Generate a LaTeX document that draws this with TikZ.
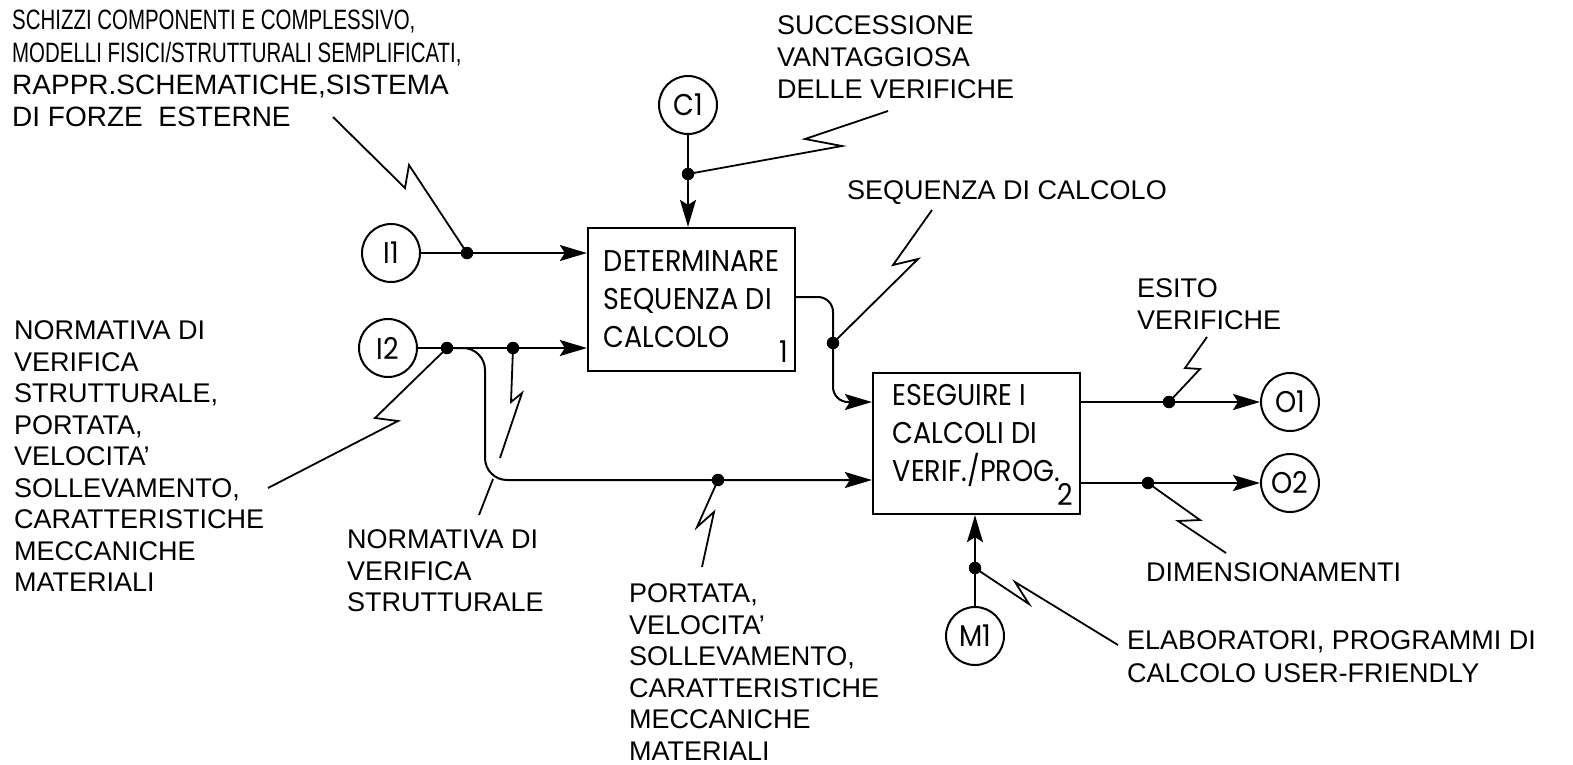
\documentclass[tikz,border=0pt]{standalone}
\usepackage{fontspec}
\setmainfont{Liberation Sans}
\newfontfamily\boxfont[FakeStretch=0.9]{Poppins}
\newfontfamily\narrowfont[FakeStretch=0.73]{Liberation Sans}
\usetikzlibrary{arrows.meta}

\begin{document}
\begin{tikzpicture}[
        x=1pt, y=-1pt,
        activity/.style={draw, line width=2.3pt, align=left,
                         minimum width=207pt, minimum height=143pt,
                         font=\boxfont\fontsize{30}{38}\selectfont},
        port/.style={draw, circle, line width=2pt, minimum size=58pt, inner sep=0pt,
                     font=\boxfont\fontsize{30}{30}\selectfont},
        boxnum/.style={anchor=south east, inner sep=0pt,
                       font=\boxfont\fontsize{30}{30}\selectfont},
        dot/.style={circle, fill, inner sep=0pt, minimum size=12.5pt},
        note/.style={anchor=north west, inner sep=0pt, align=left,
                     font=\fontsize{27}{31.5}\selectfont},
        flow/.style={line width=2pt, ->},
        lead/.style={line width=1.8pt},
        >={Stealth[length=27pt, width=16pt, inset=5pt]}
    ]
    \useasboundingbox (0,0) rectangle (1573,764);

    \node[activity] (box1) at (691.5,299.5) {DETERMINARE\\SEQUENZA DI\\CALCOLO};
    \node[activity, minimum height=141pt, text depth=22pt] (box2) at (976.5,443.5) {ESEGUIRE I\\CALCOLI DI\\VERIF./PROG.};
    \node[boxnum] (num1) at ([xshift=-8pt, yshift=9pt]box1.south east) {1};
    \node[boxnum] (num2) at ([xshift=-8pt, yshift=9pt]box2.south east) {2};

    \node[port] (C1) at (688,105) {C1};
    \node[port] (I1) at (391,253) {I1};
    \node[port] (I2) at (388,348) {I2};
    \node[port] (O1) at (1290,402) {O1};
    \node[port] (O2) at (1290,483) {O2};
    \node[port] (M1) at (975,636) {M1};

    \draw[flow] (C1) -- (box1.north -| C1);
    \draw[flow] (I1) -- (box1.west |- I1);
    \draw[flow] (I2) -- (box1.west |- I2);
    \draw[flow, rounded corners=22pt] (447,348) -- (485,348) -- (485,480) -- (box2.west |- 0,480);
    \draw[flow, rounded corners=15pt] (box1.east |- 0,297) -- (833,297) -- (833,402) -- (box2.west |- 0,402);
    \draw[flow] (box2.east |- O1) -- (O1);
    \draw[flow] (box2.east |- O2) -- (O2);
    \draw[flow] (M1) -- (box2.south -| M1);

    \node[dot] (dC1) at (688,174) {};
    \node[dot] (dI1) at (467,253) {};
    \node[dot] (dI2a) at (447,348) {};
    \node[dot] (dI2b) at (513,348) {};
    \node[dot] (dPort) at (718,480) {};
    \node[dot] (dSeq) at (833,343) {};
    \node[dot] (dO1) at (1169,402) {};
    \node[dot] (dO2) at (1148,483) {};
    \node[dot] (dM1) at (975,568) {};

    \draw[lead] (dI1.center) -- ++(-58,-88) -- ++(-4,23) -- ++(-72,-71);
    \draw[lead] (dC1.center) -- ++(154,-28) -- ++(-37,-7) -- ++(83,-28);
    \draw[lead] (dI2a.center) -- ++(-72,70) -- ++(23,3) -- ++(-130,67);
    \draw[lead] (dI2b.center) -- ++(-2,54) -- ++(11,-9) -- ++(-22,65) ++(-7,21) -- ++(-14,36);
    \draw[lead] (dPort.center) -- ++(-21,47) -- ++(17,-15) -- ++(-12,55);
    \draw[lead] (dSeq.center) -- ++(85,-84) -- ++(-25,6) -- ++(39,-55);
    \draw[lead] (dO1.center) -- ++(31,-33) -- ++(-15,-1) -- ++(22,-31);
    \draw[lead] (dO2.center) -- ++(52,37) -- ++(-22,1) -- ++(48,32);
    \draw[lead] (dM1.center) -- ++(54,36) -- ++(-14,-22) -- ++(103,63);

    \node[note, font=\fontsize{28}{32.3}\selectfont] (tI1) at (12,10)
        {{\narrowfont SCHIZZI COMPONENTI E COMPLESSIVO,}\\{\narrowfont MODELLI FISICI/STRUTTURALI SEMPLIFICATI,}\\RAPPR.SCHEMATICHE,SISTEMA\\DI FORZE\ \ ESTERNE};
    \node[note, font=\fontsize{27}{32}\selectfont] (tC1) at (777,15.5) {SUCCESSIONE\\VANTAGGIOSA\\DELLE VERIFICHE};
    \node[note] (tSeq) at (847,180.5) {SEQUENZA DI CALCOLO};
    \node[note, font=\fontsize{27}{32}\selectfont] (tO1) at (1137,278.5) {ESITO\\VERIFICHE};
    \node[note] (tI2a) at (14,320.5) {NORMATIVA DI\\VERIFICA\\STRUTTURALE,\\PORTATA,\\VELOCITA'\\SOLLEVAMENTO,\\CARATTERISTICHE\\MECCANICHE\\MATERIALI};
    \node[note] (tI2b) at (347,529.5) {NORMATIVA DI\\VERIFICA\\STRUTTURALE};
    \node[note] (tPort) at (629,583.5) {PORTATA,\\VELOCITA'\\SOLLEVAMENTO,\\CARATTERISTICHE\\MECCANICHE\\MATERIALI};
    \node[note] (tO2) at (1146,562.5) {DIMENSIONAMENTI};
    \node[note, font=\fontsize{27}{33}\selectfont] (tM1) at (1127,630.5) {ELABORATORI, PROGRAMMI DI\\CALCOLO USER-FRIENDLY};
\end{tikzpicture}
\end{document}
